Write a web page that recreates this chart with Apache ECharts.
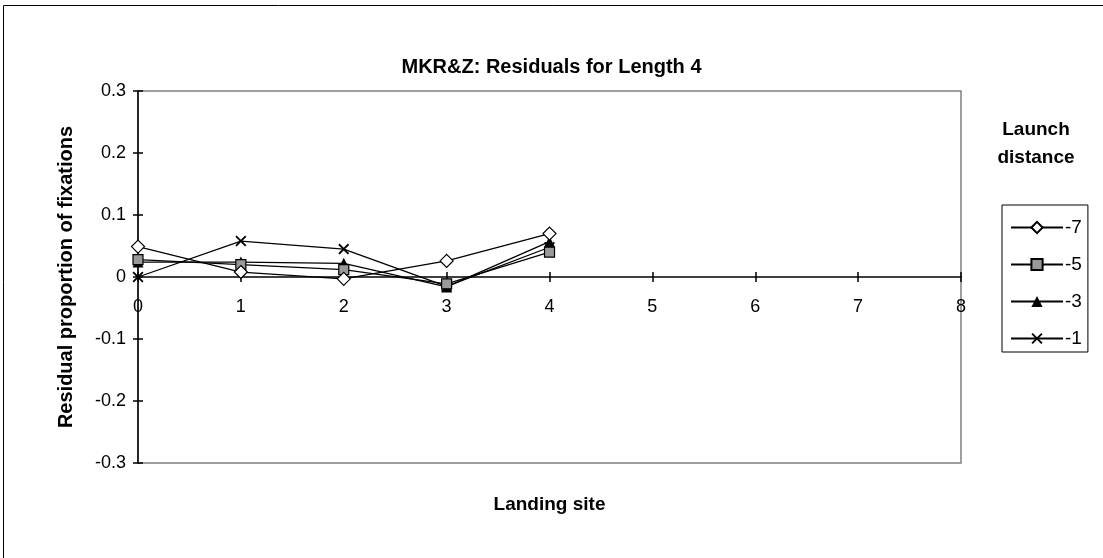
<!DOCTYPE html>
<html>
<head>
<meta charset="utf-8">
<script src="https://cdn.jsdelivr.net/npm/echarts@6/dist/echarts.min.js"></script>
<style>
html,body{margin:0;padding:0;background:#fff;}
#chart{width:1103px;height:558px;}
</style>
</head>
<body>
<div id="chart"></div>
<script>
const landingSites = [0, 1, 2, 3, 4];
const seriesNames = ['-7', '-5', '-3', '-1'];
const valsM7 = [0.049, 0.008, -0.003, 0.026, 0.070];
const valsM5 = [0.028, 0.020, 0.012, -0.011, 0.040];
const valsM3 = [0.024, 0.024, 0.022, -0.016, 0.057];
const valsM1 = [0.000, 0.058, 0.045, -0.015, 0.048];
const xTicks = [0, 1, 2, 3, 4, 5, 6, 7, 8];
const yTicks = [-0.3, -0.2, -0.1, 0, 0.1, 0.2, 0.3];

const FONT = '"Liberation Sans", Arial, sans-serif';
const crossPath = 'path://M0,1.2L1.2,0L5,3.8L8.8,0L10,1.2L6.2,5L10,8.8L8.8,10L5,6.2L1.2,10L0,8.8L3.8,5Z';

function pairs(vals){ return vals.map((v,i)=>[landingSites[i], v]); }

// grid geometry (layout only)
const GRID = {left:138, right:142, top:91, bottom:95};
const plotH = 558 - GRID.top - GRID.bottom;
const yMin = yTicks[0], yMax = yTicks[yTicks.length-1];
// the x axis crosses the value axis at 0: shift it up from the grid bottom
const zeroOffset = -plotH * (0 - yMin) / (yMax - yMin);

const chart = echarts.init(document.getElementById('chart'), null, {renderer:'canvas'});
const lineStyle = {color:'#000', width:1.3};
chart.setOption({
  animation:false,
  backgroundColor:'#fff',
  textStyle:{fontFamily:FONT},
  title:{
    text:'MKR&Z: Residuals for Length 4',
    left:'center', top:52,
    textStyle:{fontFamily:FONT, fontWeight:'bold', fontSize:20, color:'#000'}
  },
  graphic:[
    {type:'rect', shape:{x:3.5, y:5.5, width:1110, height:570}, style:{fill:null, stroke:'#000', lineWidth:1}, silent:true, z:-1},
    {type:'text', x:1036, y:116, style:{text:'Launch\ndistance', fill:'#000', font:'bold 19px ' + FONT, lineHeight:28, align:'center'}}
  ],
  legend:{
    orient:'vertical',
    left:1002, top:205,
    padding:[13,6,4,8],
    itemGap:18,
    itemWidth:52, itemHeight:14,
    borderColor:'#000', borderWidth:1,
    textStyle:{fontFamily:FONT, fontSize:19, color:'#000', padding:[0,0,0,-3]},
    data:seriesNames
  },
  grid:{left:GRID.left, right:GRID.right, top:GRID.top, bottom:GRID.bottom, show:true,
        borderColor:'#808080', borderWidth:1.5, containLabel:false, outerBoundsMode:'none'},
  xAxis:[{
    type:'value', min:xTicks[0], max:xTicks[xTicks.length-1], interval:1,
    position:'bottom', offset:zeroOffset,
    name:'Landing site', nameLocation:'middle', nameGap:218,
    nameTextStyle:{fontFamily:FONT, fontWeight:'bold', fontSize:19, color:'#000'},
    axisLine:{onZero:false, lineStyle:{color:'#000', width:1.5}},
    axisTick:{show:true, length:5, lineStyle:{color:'#000', width:1.5}},
    axisLabel:{color:'#000', fontSize:18, fontFamily:FONT, margin:21, formatter:v=>String(v)},
    splitLine:{show:false}
  },{
    type:'value', min:xTicks[0], max:xTicks[xTicks.length-1], interval:1,
    position:'bottom', offset:zeroOffset,
    axisLine:{onZero:false, show:false},
    axisTick:{show:true, inside:true, length:5, lineStyle:{color:'#000', width:1.5}},
    axisLabel:{show:false}, splitLine:{show:false}
  }],
  yAxis:[{
    type:'value', min:yMin, max:yMax, interval:0.1,
    name:'Residual proportion of fixations', nameLocation:'middle', nameGap:62,
    nameTextStyle:{fontFamily:FONT, fontWeight:'bold', fontSize:20, color:'#000'},
    axisLine:{show:true, onZero:false, lineStyle:{color:'#000', width:1.5}},
    axisTick:{show:true, length:5, lineStyle:{color:'#000', width:1.5}},
    axisLabel:{color:'#000', fontSize:18, fontFamily:FONT, margin:12,
      formatter:v=>{const r=Math.round(v*10)/10; return r===0?'0':r.toFixed(1);}},
    splitLine:{show:false}
  },{
    type:'value', min:yMin, max:yMax, interval:0.1, position:'left',
    axisLine:{show:false, onZero:false},
    axisTick:{show:true, inside:true, length:5, lineStyle:{color:'#000', width:1.5}},
    axisLabel:{show:false}, splitLine:{show:false}
  }],
  series:[
    {name:seriesNames[0], type:'line', data:pairs(valsM7), symbol:'diamond', symbolSize:[13,13], z:5,
     lineStyle:lineStyle, itemStyle:{color:'#fff', borderColor:'#000', borderWidth:1.2}},
    {name:seriesNames[1], type:'line', data:pairs(valsM5), symbol:'rect', symbolSize:10, z:4,
     lineStyle:lineStyle, itemStyle:{color:'#999999', borderColor:'#000', borderWidth:1.2}},
    {name:seriesNames[2], type:'line', data:pairs(valsM3), symbol:'triangle', symbolSize:11, z:3,
     lineStyle:lineStyle, itemStyle:{color:'#000', borderColor:'#000', borderWidth:0}},
    {name:seriesNames[3], type:'line', data:pairs(valsM1), symbol:crossPath, symbolSize:11, z:2,
     lineStyle:lineStyle, itemStyle:{color:'#000', borderColor:'#000', borderWidth:0}}
  ]
});
</script>
</body>
</html>
